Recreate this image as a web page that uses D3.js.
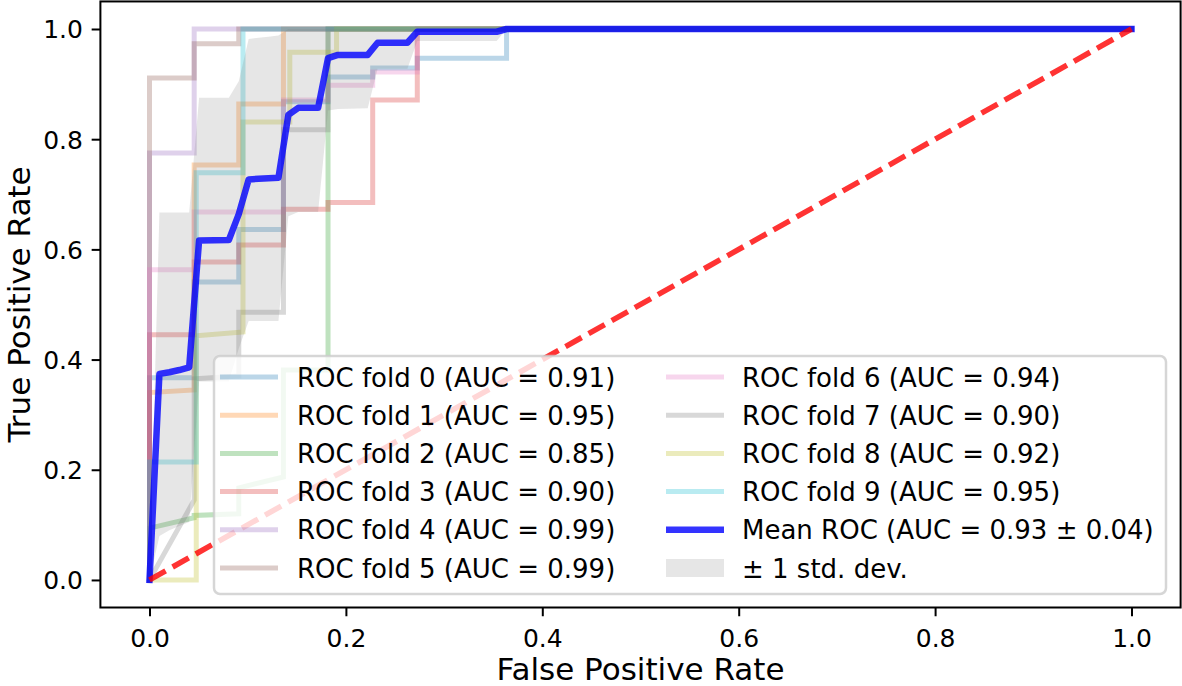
<!DOCTYPE html>
<html><head><meta charset="utf-8">
<script src="https://cdn.jsdelivr.net/npm/d3@7"></script>
<style>body{margin:0;background:#fff}svg{display:block}text{font-family:"DejaVu Sans",sans-serif}</style>
</head><body><svg id="c" width="1182" height="686"></svg>
<script>
// ---------- data ----------
const xTicks = [0.0, 0.2, 0.4, 0.6, 0.8, 1.0];
const yTicks = [0.0, 0.2, 0.4, 0.6, 0.8, 1.0];

const foldFpr = [
  [0, 0, 0.0455, 0.0455, 0.0909, 0.0909, 0.1364, 0.1364, 0.1818, 0.1818, 0.2273, 0.2273, 0.2727, 0.2727, 0.3636, 0.3636, 1],
  [0, 0, 0.0455, 0.0455, 0.0909, 0.0909, 0.1364, 0.1364, 1],
  [0, 0, 0.0455, 0.0455, 0.0909, 0.0909, 0.1364, 0.1364, 0.1818, 0.1818, 1],
  [0, 0, 0.0455, 0.0455, 0.0909, 0.0909, 0.1364, 0.1364, 0.1818, 0.1818, 0.2273, 0.2273, 0.2727, 0.2727, 1],
  [0, 0, 0.0455, 0.0455, 1],
  [0, 0, 0.0455, 0.0455, 0.0909, 0.0909, 1],
  [0, 0, 0.0455, 0.0455, 0.1364, 0.1364, 0.1818, 0.1818, 0.2273, 0.2273, 0.2727, 0.2727, 1],
  [0, 0.0455, 0.0455, 0.0909, 0.0909, 0.1364, 0.1364, 0.1818, 0.1818, 1],
  [0, 0.0476, 0.0476, 0.0952, 0.0952, 0.1429, 0.1429, 0.1905, 0.1905, 1],
  [0, 0, 0.0476, 0.0476, 0.0952, 0.0952, 1]
];
const foldTpr = [
  [0, 0.367, 0.367, 0.541, 0.541, 0.636, 0.636, 0.868, 0.868, 0.913, 0.913, 0.929, 0.929, 0.947, 0.947, 1, 1],
  [0, 0.340, 0.345, 0.753, 0.753, 0.864, 0.864, 1, 1],
  [0, 0.094, 0.113, 0.117, 0.120, 0.167, 0.187, 0.381, 0.381, 1, 1],
  [0, 0.445, 0.445, 0.577, 0.577, 0.608, 0.608, 0.673, 0.673, 0.685, 0.685, 0.871, 0.871, 1, 1],
  [0, 0.775, 0.775, 1, 1],
  [0, 0.911, 0.911, 0.973, 0.973, 1, 1],
  [0, 0.563, 0.563, 0.668, 0.668, 0.871, 0.871, 0.898, 0.898, 0.922, 0.922, 1, 1],
  [0, 0.145, 0.365, 0.370, 0.486, 0.486, 0.817, 0.817, 1, 1],
  [0, 0, 0.443, 0.450, 0.831, 0.831, 0.958, 0.958, 1, 1],
  [0, 0.214, 0.214, 0.739, 0.739, 1, 1]
];
const foldAuc = [0.91, 0.95, 0.85, 0.90, 0.99, 0.99, 0.94, 0.90, 0.92, 0.95];
const meanAuc = 0.93;
const stdAuc = 0.04;

const meanFpr   = [0, 0.0101, 0.0202, 0.0303, 0.0404, 0.0505, 0.0808, 0.0909, 0.1010, 0.1111, 0.1212, 0.1313, 0.1414, 0.1515, 0.1717, 0.1818, 0.1919, 0.2222, 0.2323, 0.2626, 0.2727, 0.3535, 0.3636, 1];
const meanTpr   = [0, 0.374, 0.377, 0.381, 0.386, 0.616, 0.617, 0.664, 0.727, 0.728, 0.729, 0.730, 0.844, 0.857, 0.857, 0.947, 0.953, 0.953, 0.975, 0.975, 0.995, 0.995, 1, 1];
const stdLower  = [0, 0.080, 0.090, 0.098, 0.105, 0.360, 0.360, 0.420, 0.470, 0.470, 0.470, 0.470, 0.660, 0.668, 0.668, 0.852, 0.855, 0.856, 0.928, 0.928, 0.978, 0.978, 1, 1];
const stdUpper  = [0, 0.667, 0.667, 0.667, 0.667, 0.875, 0.875, 0.905, 0.982, 0.984, 0.986, 0.988, 1, 1, 1, 1, 1, 1, 1, 1, 1, 1, 1, 1];

const chance = [[0, 0], [1, 1]];

// ---------- styles ----------
const foldColors = ['#1f77b4','#ff7f0e','#2ca02c','#d62728','#9467bd','#8c564b','#e377c2','#7f7f7f','#bcbd22','#17becf'];
const FONT = '"DejaVu Sans", sans-serif';

const svg = d3.select('#c');
const x = d3.scaleLinear().domain([-0.05, 1.05]).range([100.4, 1180.6]);
const y = d3.scaleLinear().domain([-0.05, 1.05]).range([607.5, 1.45]);

svg.append('defs').append('clipPath').attr('id', 'clip').append('rect')
  .attr('x', x(-0.05)).attr('y', y(1.05))
  .attr('width', x(1.05) - x(-0.05)).attr('height', y(-0.05) - y(1.05));

const plot = svg.append('g').attr('clip-path', 'url(#clip)');
const line = d3.line().x(d => x(d[0])).y(d => y(d[1]));

foldFpr.forEach((f, i) => {
  const pts = f.map((v, j) => [v, foldTpr[i][j]]);
  plot.append('path').attr('d', line(pts)).attr('fill', 'none')
    .attr('stroke', foldColors[i]).attr('stroke-opacity', 0.3)
    .attr('stroke-width', 5).attr('stroke-linejoin', 'miter').attr('stroke-linecap', 'square');
});

const bandData = meanFpr.map((f, i) => ({f, lo: stdLower[i], hi: stdUpper[i]}));
plot.append('path')
  .attr('d', d3.area().x(d => x(d.f)).y0(d => y(d.lo)).y1(d => y(d.hi))(bandData))
  .attr('fill', '#808080').attr('fill-opacity', 0.2);

plot.append('path').attr('d', line(meanFpr.map((f, i) => [f, meanTpr[i]])))
  .attr('fill', 'none').attr('stroke', '#0000ff').attr('stroke-opacity', 0.8)
  .attr('stroke-width', 6.5).attr('stroke-linejoin', 'round').attr('stroke-linecap', 'square');

plot.append('path').attr('d', line(chance))
  .attr('fill', 'none').attr('stroke', '#ff0000').attr('stroke-opacity', 0.8)
  .attr('stroke-width', 5.5).attr('stroke-dasharray', '18.5,8');

// frame
svg.append('rect').attr('x', x(-0.05)).attr('y', y(1.05))
  .attr('width', x(1.05) - x(-0.05)).attr('height', y(-0.05) - y(1.05))
  .attr('fill', 'none').attr('stroke', '#000').attr('stroke-width', 2);

// axes
const gx = svg.append('g').attr('transform', `translate(0,${y(-0.05)})`)
  .call(d3.axisBottom(x).tickValues(xTicks).tickFormat(d3.format('.1f')).tickSize(8.75).tickPadding(0));
gx.attr('font-size', 25).attr('font-family', FONT);
gx.select('.domain').remove();
gx.selectAll('.tick line').attr('stroke', '#000').attr('stroke-width', 2);
gx.selectAll('.tick text').attr('y', 39.5).attr('dy', null).attr('fill', '#000');

const gy = svg.append('g').attr('transform', `translate(${x(-0.05)},0)`)
  .call(d3.axisLeft(y).tickValues(yTicks).tickFormat(d3.format('.1f')).tickSize(8.75).tickPadding(8.75));
gy.attr('font-size', 25).attr('font-family', FONT);
gy.select('.domain').remove();
gy.selectAll('.tick line').attr('stroke', '#000').attr('stroke-width', 2);
gy.selectAll('.tick text').attr('dy', '0.36em').attr('fill', '#000');

svg.append('text').attr('x', (x(-0.05) + x(1.05)) / 2).attr('y', 680)
  .attr('text-anchor', 'middle').attr('font-size', 31).attr('font-family', FONT)
  .text('False Positive Rate');
svg.append('text').attr('transform', `translate(30,${(y(-0.05) + y(1.05)) / 2}) rotate(-90)`)
  .attr('text-anchor', 'middle').attr('font-size', 31).attr('font-family', FONT)
  .text('True Positive Rate');

// legend
const lg = svg.append('g');
lg.append('rect').attr('x', 214).attr('y', 356).attr('width', 952).attr('height', 238).attr('rx', 6)
  .attr('fill', '#fff').attr('fill-opacity', 0.8).attr('stroke', '#cccccc').attr('stroke-opacity', 0.8).attr('stroke-width', 2.5);

const rowY = i => 377 + 38.2 * i;
const cols = [{hx: 220, tx: 297}, {hx: 666, tx: 742}];
const entries = foldAuc.map((a, i) => ({type: 'line', color: foldColors[i], op: 0.3, w: 5, label: `ROC fold ${i} (AUC = ${a.toFixed(2)})`}));
entries.push({type: 'line', color: '#0000ff', op: 0.8, w: 6.5, label: `Mean ROC (AUC = ${meanAuc.toFixed(2)} \u00b1 ${stdAuc.toFixed(2)})`});
entries.push({type: 'patch', label: '\u00b1 1 std. dev.'});

entries.forEach((e, k) => {
  const c = cols[k < 6 ? 0 : 1];
  const cy = rowY(k % 6);
  if (e.type === 'line') {
    lg.append('line').attr('x1', c.hx).attr('x2', c.hx + 58).attr('y1', cy).attr('y2', cy)
      .attr('stroke', e.color).attr('stroke-opacity', e.op).attr('stroke-width', e.w);
  } else {
    lg.append('rect').attr('x', c.hx).attr('y', cy - 9).attr('width', 58).attr('height', 18)
      .attr('fill', '#808080').attr('fill-opacity', 0.2);
  }
  lg.append('text').attr('x', c.tx).attr('y', cy + 9.5).attr('font-size', 26).attr('font-family', FONT)
    .attr('fill', '#000').text(e.label);
});
</script>
</body></html>
